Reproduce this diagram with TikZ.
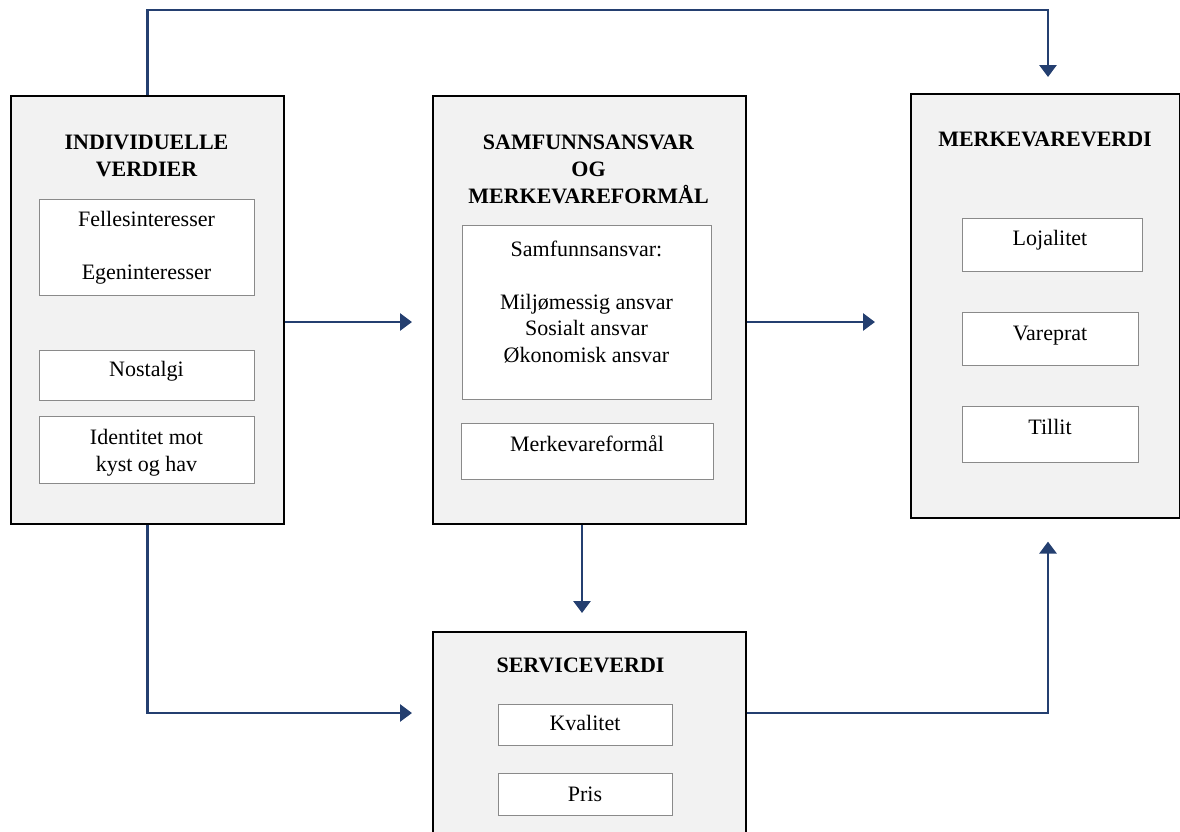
\documentclass[tikz,border=0pt]{standalone}
\usepackage{fontspec}
\setmainfont{Liberation Serif}
\usetikzlibrary{arrows.meta}
\definecolor{panelgray}{HTML}{F2F2F2}
\definecolor{itemgray}{HTML}{8A8A8A}
\definecolor{arrowblue}{HTML}{243F70}

\begin{document}
\begin{tikzpicture}[x=1pt, y=-1pt,
    panel/.style={draw=black, fill=panelgray, line width=1.6pt, anchor=north west, inner sep=0pt},
    item/.style={draw=itemgray, fill=white, line width=1.3pt, anchor=north west, inner sep=0pt},
    txt/.style={anchor=north, align=center, inner sep=0pt, font=\fontsize{22}{26.5}\selectfont},
    head/.style={txt, font=\fontsize{22}{27}\selectfont\bfseries},
    arr/.style={draw=arrowblue, line width=2.8pt, -{Triangle[length=12pt, width=17pt]}}]
    \useasboundingbox (0,0) rectangle (1180,831);
    \coordinate (mid) at (0,322); \coordinate (low) at (0,713);
    \coordinate (topc) at (1048,10); \coordinate (dn) at (582,0);
    % individuelle verdier
    \node[panel, minimum width=273pt, minimum height=428pt] (ind) at (10,95) {};
    \node[head] (ind-t) at (146.5,134.5) {INDIVIDUELLE\\VERDIER};
    \node[item, minimum width=215pt, minimum height=96pt] (felles) at (39,199) {};
    \node[txt] (felles-t) at (146.5,211.5) {Fellesinteresser\\[26.5pt]Egeninteresser};
    \node[item, minimum width=215pt, minimum height=50pt] (nost) at (39,350) {};
    \node[txt] (nost-t) at (146.5,361.5) {Nostalgi};
    \node[item, minimum width=215pt, minimum height=67pt] (ident) at (39,416) {};
    \node[txt] (ident-t) at (146.5,429.5) {Identitet mot\\kyst og hav};
    % samfunnsansvar
    \node[panel, minimum width=313pt, minimum height=428pt] (sam) at (432,95) {};
    \node[head] (sam-t) at (588.5,134.5) {SAMFUNNSANSVAR\\OG\\MERKEVAREFORMÅL};
    \node[item, minimum width=249pt, minimum height=174pt] (ansvar) at (462,225) {};
    \node[txt] (ansvar-t) at (586.5,240.5) {Samfunnsansvar:\\[26.5pt]Miljømessig ansvar\\Sosialt ansvar\\Økonomisk ansvar};
    \node[item, minimum width=252pt, minimum height=56pt] (formal) at (461,423) {};
    \node[txt] (formal-t) at (587,435.5) {Merkevareformål};
    % merkevareverdi
    \node[panel, minimum width=269pt, minimum height=424pt] (merk) at (910,93) {};
    \node[head] (merk-t) at (1045,131.5) {MERKEVAREVERDI};
    \node[item, minimum width=180pt, minimum height=53pt] (loja) at (962,218) {};
    \node[txt] (loja-t) at (1050,230.5) {Lojalitet};
    \node[item, minimum width=176pt, minimum height=53pt] (vare) at (962,312) {};
    \node[txt] (vare-t) at (1050,325.5) {Vareprat};
    \node[item, minimum width=176pt, minimum height=56pt] (till) at (962,406) {};
    \node[txt] (till-t) at (1050,419.5) {Tillit};
    % serviceverdi
    \node[panel, minimum width=313pt, minimum height=215pt] (serv) at (432,631) {};
    \node[head] (serv-t) at (580.5,657.5) {SERVICEVERDI};
    \node[item, minimum width=174pt, minimum height=41pt] (kval) at (498,704) {};
    \node[txt] (kval-t) at (585,715.5) {Kvalitet};
    \node[item, minimum width=174pt, minimum height=42pt] (pris) at (498,773) {};
    \node[txt] (pris-t) at (585,786.5) {Pris};
    % piler
    \draw[arr, shorten >=16pt] (ind.north) |- (topc) -- (topc |- merk.north);
    \draw[arr, shorten >=20pt] (ind.east |- mid) -- (sam.west |- mid);
    \draw[arr, shorten >=35pt] (sam.east |- mid) -- (merk.west |- mid);
    \draw[arr, shorten >=18pt] (sam.south -| dn) -- (serv.north -| dn);
    \draw[arr, shorten >=20pt] (ind.south) |- (serv.west |- low);
    \draw[arr, shorten >=23pt] (serv.east |- low) -| (topc |- merk.south);
\end{tikzpicture}
\end{document}
